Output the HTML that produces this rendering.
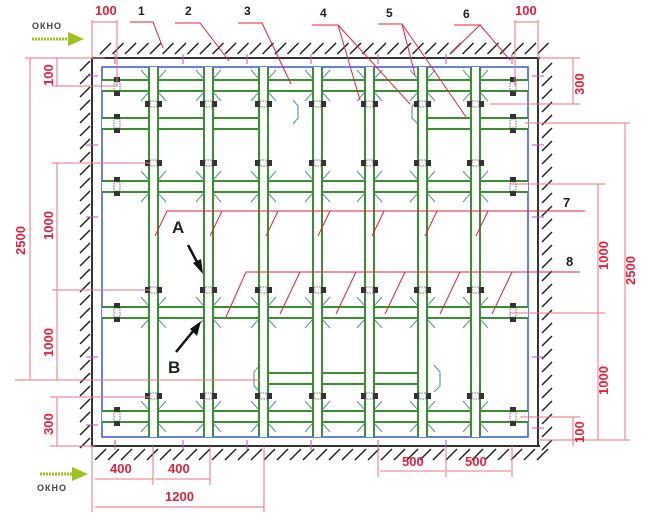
<!DOCTYPE html>
<html><head><meta charset="utf-8"><style>
html,body{margin:0;padding:0;background:#fff;width:650px;height:520px;overflow:hidden}
svg{display:block}
.r{fill:#e8203a;font:bold 13px "Liberation Sans",sans-serif}
.k{fill:#222;font:bold 12px "Liberation Sans",sans-serif}
.o{fill:#444;font:bold 9px "Liberation Sans",sans-serif;letter-spacing:1px}
</style></head><body>
<svg id="s" width="650" height="520" viewBox="0 0 650 520" xmlns="http://www.w3.org/2000/svg">
<g id="g"></g>
<text class="r" x="95" y="15">100</text>
<text class="r" x="515" y="15">100</text>
<text class="k" x="138" y="15">1</text>
<text class="k" x="185" y="15">2</text>
<text class="k" x="244" y="15">3</text>
<text class="k" x="320" y="17">4</text>
<text class="k" x="386" y="17">5</text>
<text class="k" x="463" y="18">6</text>
<text class="o" x="32" y="29">ОКНО</text>
<text class="o" x="37" y="491">ОКНО</text>
<text class="r" transform="translate(53,86) rotate(-90)">100</text>
<text class="r" transform="translate(25,255) rotate(-90)">2500</text>
<text class="r" transform="translate(53,240) rotate(-90)">1000</text>
<text class="r" transform="translate(53,357) rotate(-90)">1000</text>
<text class="r" transform="translate(53,435) rotate(-90)">300</text>
<text class="r" transform="translate(584,95) rotate(-90)">300</text>
<text class="r" transform="translate(608,270) rotate(-90)">1000</text>
<text class="r" transform="translate(635,285) rotate(-90)">2500</text>
<text class="r" transform="translate(608,395) rotate(-90)">1000</text>
<text class="r" transform="translate(584,443) rotate(-90)">100</text>
<text class="r" x="110" y="473">400</text>
<text class="r" x="168" y="473">400</text>
<text class="r" x="165" y="501">1200</text>
<text class="r" x="402" y="466">500</text>
<text class="r" x="465" y="466">500</text>
<text class="k" x="563" y="207" style="font-size:13px">7</text>
<text class="k" x="566" y="266" style="font-size:13px">8</text>
<text class="k" x="172" y="233" style="font-size:17px">A</text>
<text class="k" x="168" y="373" style="font-size:17px">B</text>
</svg>
<script>
var g=document.getElementById('g'),h='';
function L(x1,y1,x2,y2,c,w,d){h+='<line x1="'+x1+'" y1="'+y1+'" x2="'+x2+'" y2="'+y2+'" stroke="'+c+'" stroke-width="'+(w||1)+'"'+(d?' stroke-dasharray="'+d+'"':'')+'/>';}
function R(x,y,w,hh,f,s,sw,d){h+='<rect x="'+x+'" y="'+y+'" width="'+w+'" height="'+hh+'" fill="'+f+'"'+(s?' stroke="'+s+'" stroke-width="'+(sw||1)+'"':'')+(d?' stroke-dasharray="'+d+'"':'')+'/>';}
var G='#389030',B='#6f97a8',P='#f07080',RD='#e8203a';
L(92,58,540,58,'#333',2);L(92,58,92,447,'#333',2);L(538,58,538,447,'#333',2);L(92,446,540,446,'#333',2);
for(var x=100;x<548;x+=12.5)L(x,54,x+11,43,'#222',1.5);
for(var y=60;y<446;y+=13)L(80,y+11,90,y+1,'#222',1.5);
for(var y=62;y<446;y+=13)L(542,y+11,552,y+1,'#222',1.5);
for(var x=95;x<540;x+=13)L(x,460,x+11,449,'#222',1.5);
h+='<rect x="102" y="67" width="426" height="370" fill="none" stroke="#3355ee" stroke-width="1.5"/>';
var V=[149,204,259,313,365,418,471];
function HR(y,x1,x2){R(x1,y,x2-x1,11,'#fff');L(x1,y,x2,y,G,2);L(x1,y+11,x2,y+11,G,2);}
HR(80,102,528);HR(118,102,264);HR(118,424,528);HR(181,102,528);HR(307,102,528);HR(373,264,424);HR(411,102,528);
var rows=[80,181,307,411];
V.forEach(function(v){rows.forEach(function(y){L(v-1,y-2,v-8,y-10,B,1.2);L(v+10,y-2,v+17,y-10,B,1.2);L(v-1,y+13,v-8,y+21,B,1.2);L(v+10,y+13,v+17,y+21,B,1.2);});});
h+='<polyline points="293,100 298,106 298,118 293,124" fill="none" stroke="'+B+'" stroke-width="1.2"/>';
h+='<polyline points="418,100 412,106 412,118 418,124" fill="none" stroke="'+B+'" stroke-width="1.2"/>';
h+='<polyline points="260,365 254,372 254,386 260,392" fill="none" stroke="'+B+'" stroke-width="1.2"/>';
h+='<polyline points="434,365 440,372 440,386 434,392" fill="none" stroke="'+B+'" stroke-width="1.2"/>';
V.forEach(function(v){R(v,67,9,370,'#fff');L(v,67,v,437,G,2);L(v+9,67,v+9,437,G,2);});
[104,163,290,396].forEach(function(y){V.forEach(function(v){R(v-4,y-3,5,6,'#333');R(v+8,y-3,5,6,'#333');R(v+1,y-3,7,6,'none','#555',0.8,'1.5,1');});});
[86,123,186,312,416].forEach(function(y){[117,513].forEach(function(x){R(x-3,y-9,6,5,'#333');R(x-3,y+5,6,5,'#333');R(x-3,y-4,6,9,'none','#555',0.8,'1.5,1');});});
[115,183,247,311,378,446,512].forEach(function(x){L(x,54,x,64,'#c050c0',1);});
[115,183,247,311,378,446].forEach(function(x){L(x,440,x,450,'#c050c0',1);});
[76,145,217,357,425].forEach(function(y){L(86,y,98,y,'#c050c0',1);});
[76,145,217,357,428].forEach(function(y){L(532,y,544,y,'#c050c0',1);});
function A(x1,y1,x2,y2){L(x1,y1,x2,y2,P,1);}
A(92,20,92,58);A(117,20,117,86);A(92,22,117,22);A(515,20,515,86);A(538,20,538,58);A(515,22,538,22);
A(25,58,105,58);A(30,58,30,380);A(52,86,117,86);A(57,58,57,86);
A(52,163,150,163);A(57,163,57,290);A(52,290,150,290);A(57,290,57,380);A(15,380,260,380);A(50,397,150,397);A(57,397,57,446);A(50,446,95,446);
A(538,58,580,58);A(573,58,573,104);A(490,104,580,104);
A(525,123,630,123);A(625,123,625,440);A(510,184,605,184);A(598,184,598,313);A(510,313,605,313);A(598,313,598,440);
A(520,417,580,417);A(573,417,573,446);A(538,440,630,440);
A(92,446,92,512);A(153,446,153,485);A(210,446,210,485);A(264,446,264,512);A(95,479,153,479);A(155,479,210,479);A(95,507,264,507);
A(378,446,378,477);A(446,446,446,477);A(512,446,512,477);A(380,471,445,471);A(447,471,511,471);
function RL(pts){h+='<polyline points="'+pts+'" fill="none" stroke="'+RD+'" stroke-width="1"/>';}
RL('130,22 153,22 163,48');RL('175,23 200,23 229,61');RL('238,23 262,23 291,84');
RL('312,25 338,25 360,100');RL('338,25 410,104');RL('378,24 402,24 415,75');RL('402,24 466,117');
RL('454,25 480,25 450,54');RL('480,25 510,60');
RL('155,236 167,211 585,211');
[222,278,330,384,437,488].forEach(function(x){L(x-12,236,x,211,RD,1);});
RL('226,317 246,272 580,272');
[300,356,405,460,512].forEach(function(x){L(x-20,314,x,272,RD,1);});
L(188,245,198,264,'#111',2.5);h+='<polygon points="203,274 193,263 201,259" fill="#111"/>';
L(176,352,194,330,'#111',2.5);h+='<polygon points="201,321 190,329 197,336" fill="#111"/>';
h+='<line x1="32" y1="39" x2="70" y2="39" stroke="#9ac41c" stroke-width="3" stroke-dasharray="2,1"/><polygon points="68,32 84,39 68,46" fill="#9ac41c"/>';
h+='<line x1="40" y1="474" x2="74" y2="474" stroke="#9ac41c" stroke-width="3" stroke-dasharray="2,1"/><polygon points="72,467 88,474 72,481" fill="#9ac41c"/>';
g.innerHTML=h;
</script>
</body></html>
